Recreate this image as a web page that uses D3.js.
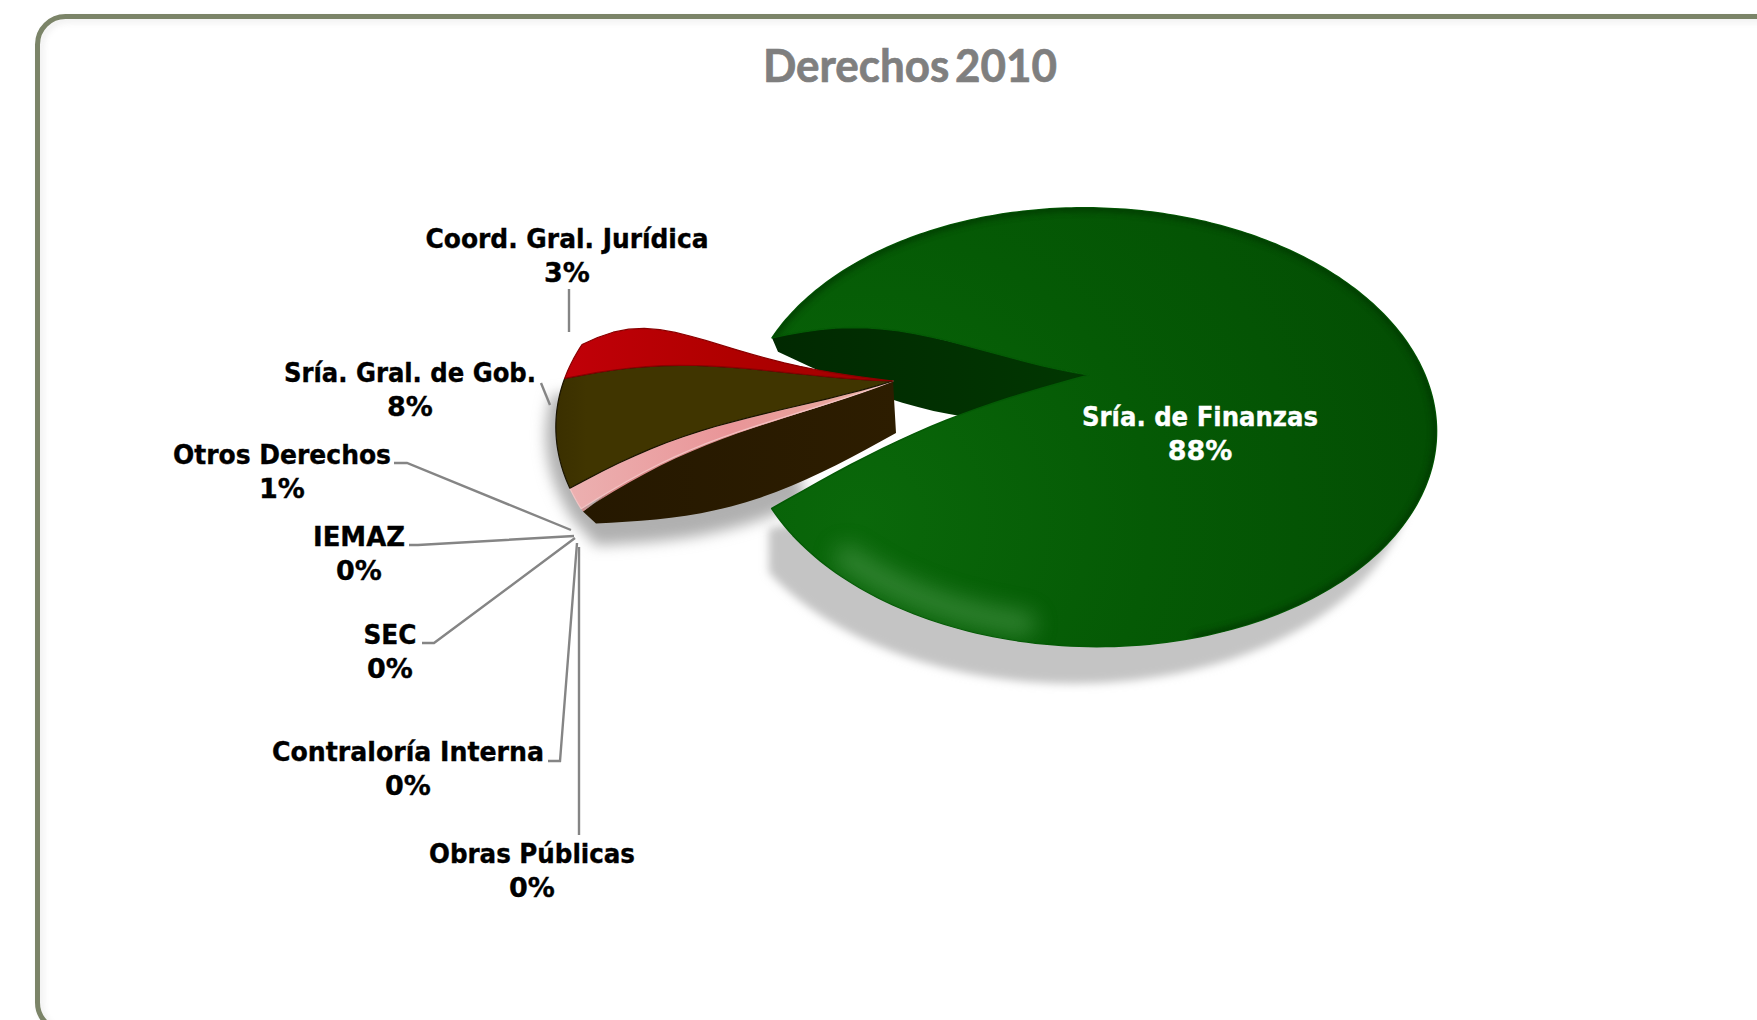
<!DOCTYPE html>
<html><head><meta charset="utf-8">
<script src="https://cdn.jsdelivr.net/npm/d3@7/dist/d3.min.js"></script>
<style>html,body{margin:0;padding:0;background:#fff;overflow:hidden}svg{display:block}
.lab{font-family:"DejaVu Sans",sans-serif;font-weight:700;font-size:27px;text-anchor:middle;stroke-width:.35}
.name{font-stretch:condensed}
</style></head><body><svg id="c" width="1757" height="1020"></svg>
<script>
const titleText = "Derechos 2010";
const categories = ["Obras Públicas","Contraloría Interna","SEC","IEMAZ","Otros Derechos","Sría. Gral. de Gob.","Coord. Gral. Jurídica","Sría. de Finanzas"];
const values = [0.05,0.05,0.05,0.05,1.45,8.0,2.8,87.55];
const colors = ["#d98a8a","#d98a8a","#d98a8a","#d98a8a","url(#pinkG)","url(#oliveG)","url(#redG)","url(#greenG)"];
const edgeColors = ["none","none","none","none","#f2c4c4","#1a1400","#8a0000","none"];
const labelX = [532,408,390,359,282,410,567,1200];
const labelY = [854,752,635,537,455,373,239,417];
const labelW = [206,272,53,92,218,252,283,236];
const leaders = [
 [[579,835],[579,547]],
 [[548,761],[560,761],[577,543]],
 [[422,643],[434,643],[575,538]],
 [[409,545],[418,545],[574,536]],
 [[394,463],[407,463],[571,530]],
 [[541,383],[550,405]],
 [[569,289],[569,332]],
 []
];
const mainCenter=[1089,375], wedgeCenter=[893,381];
const Rx=336, Ry=207, K=0.238, SKEW=0.03;
const START=(270-34)*Math.PI/180;

const svg=d3.select("#c"), defs=svg.append("defs");
const pie=d3.pie().sort(null).value(d=>d).startAngle(START).endAngle(START+2*Math.PI);
const arcs=pie(values);
const ux=d3.scaleLinear().domain([-1,1]).range([-Rx,Rx]);
const uy=d3.scaleLinear().domain([-1,1]).range([-Ry,Ry]);
function proj(c,a,s=1){const u=s*Math.sin(a),v=-s*Math.cos(a),w=1-K*v;
  const dy=uy(v)/w;return [c[0]+ux(u)/w+dy*SKEW,c[1]+dy];}
function radial(c,a,bow,scale=1,e=1.5){const O=proj(c,a,scale);
  return d3.range(0,1.001,0.05).map(r=>[c[0]+r*(O[0]-c[0]),c[1]+r*(O[1]-c[1])-bow*Math.sin(Math.PI*Math.pow(r,e))]);}
function rim(c,a0,a1,s=1){const n=Math.max(2,Math.ceil(Math.abs(a1-a0)/0.02));
  return d3.range(n+1).map(i=>proj(c,a0+(a1-a0)*i/n,s));}
const line=d3.line();

// defs
function grad(id,stops,attrs,kind="linearGradient"){const g=defs.append(kind).attr("id",id).attr("gradientUnits","userSpaceOnUse");
  Object.entries(attrs).forEach(([k,v])=>g.attr(k,v));stops.forEach(s=>g.append("stop").attr("offset",s[0]).attr("stop-color",s[1]));}
grad("greenG",[[0,"#0a680a"],[0.5,"#055a05"],[1,"#034e03"]],{cx:860,cy:520,r:580},"radialGradient");
grad("redG",[[0,"#c00008"],[0.5,"#b00000"],[1,"#a00000"]],{x1:570,y1:0,x2:890,y2:0});
grad("oliveG",[[0,"#3a2f00"],[0.1,"#403500"],[1,"#403500"]],{x1:553,y1:0,x2:893,y2:0});
grad("pinkG",[[0,"#ecb0b0"],[0.5,"#e99598"],[1,"#e8b0a0"]],{x1:570,y1:0,x2:893,y2:0});
grad("wallG",[[0,"#251800"],[1,"#2d1d00"]],{x1:577,y1:0,x2:897,y2:0});
grad("mainWallG",[[0,"#012901"],[1,"#013701"]],{x1:773,y1:0,x2:1089,y2:0});
[["b3",3],["b5",4],["b7",7],["b10",11]].forEach(([id,s])=>defs.append("filter").attr("id",id)
  .attr("filterUnits","userSpaceOnUse").attr("x",0).attr("y",0).attr("width",1757).attr("height",1020)
  .append("feGaussianBlur").attr("stdDeviation",s));

// frame
const frame=[37.5,16.5,1800,1014];
svg.append("rect").attr("x",frame[0]+3).attr("y",frame[1]+3).attr("width",frame[2]).attr("height",frame[3]).attr("rx",28)
  .attr("fill","none").attr("stroke","#ccc").attr("stroke-width",4).attr("filter","url(#b3)").attr("opacity",.45);
svg.append("rect").attr("x",frame[0]).attr("y",frame[1]).attr("width",frame[2]).attr("height",frame[3]).attr("rx",28)
  .attr("fill","none").attr("stroke","#7b8468").attr("stroke-width",5);

svg.append("text").text(titleText).attr("x",910).attr("y",82).attr("text-anchor","middle")
  .attr("font-family","Lato, sans-serif").attr("font-weight",700).attr("font-size",45).attr("fill","#7f7f7f")
  .attr("stroke","#7f7f7f").attr("stroke-width",.7).attr("word-spacing",-5)
  .attr("textLength",294).attr("lengthAdjust","spacingAndGlyphs");

const main=arcs[arcs.length-1], small=arcs.slice(0,-1);
const smallStart=small[0].startAngle, smallEnd=small[small.length-1].endAngle;
const WS=0.98;
const tLow=main.endAngle;

// wall outlines
const wallBottom=radial(wedgeCenter,smallStart,-24,WS,1).map((p,i,arr)=>{
  const r=i/(arr.length-1);return [p[0]+3+10*r,p[1]+52+(12-52)*r];}).reverse();
const mainWallBottom=radial(mainCenter,main.startAngle,-24,1,1).map((p,i,arr)=>{
  const r=i/(arr.length-1);return [p[0]+6*r,p[1]+47+(14-47)*r];}).reverse();

// shadows
const corner=proj(mainCenter,tLow);
svg.append("path").attr("d",line([[corner[0]-3,corner[1]+20],
    ...rim(mainCenter,tLow-0.12,tLow-Math.PI*0.82).map(p=>[p[0]-24,p[1]+37])])+"Z")
  .attr("fill","#c4c4c4").attr("filter","url(#b5)");
svg.append("path").attr("d",line([
    ...rim(wedgeCenter,smallEnd-0.22,smallStart,WS).map(p=>[p[0]-10,p[1]+8]),
    ...wallBottom.slice(0,15).map(p=>[p[0],p[1]+22]),
    [wedgeCenter[0]-120,wedgeCenter[1]]
  ])+"Z").attr("fill","#b0b0b0").attr("filter","url(#b7)");

// main inner wall
svg.append("path").attr("d",line([...radial(mainCenter,main.startAngle,22),...mainWallBottom])+"Z").attr("fill","url(#mainWallG)");

// small wedge wall
svg.append("path").attr("d",line([...radial(wedgeCenter,smallStart,20,WS),...wallBottom])+"Z").attr("fill","url(#wallG)");

// small slices
function smallPath(d){
  const lower=d.index<=4?(d.index===4?14:20):14;
  const upper=d.index===6?radial(wedgeCenter,d.endAngle,24,WS,2.5):radial(wedgeCenter,d.endAngle,14,WS);
  return line([...radial(wedgeCenter,d.startAngle,lower,WS),...rim(wedgeCenter,d.startAngle,d.endAngle,WS),...upper.reverse()])+"Z";
}
svg.append("g").selectAll("path").data(small).join("path")
  .attr("d",smallPath)
  .attr("fill",d=>colors[d.index]).attr("stroke",d=>edgeColors[d.index]).attr("stroke-width",1.2).attr("stroke-linejoin","round");

// main top surface
const mainPath=line([...radial(mainCenter,main.startAngle,22),...rim(mainCenter,main.startAngle,main.endAngle),...radial(mainCenter,main.endAngle,15,1,1).reverse()])+"Z";
defs.append("clipPath").attr("id","mainClip").append("path").attr("d",mainPath);
svg.append("path").attr("d",mainPath).attr("fill",colors[7]).attr("stroke","#045a05").attr("stroke-width",1.5).attr("stroke-linejoin","round");
const shade=svg.append("g").attr("clip-path","url(#mainClip)");
shade.append("path").attr("d",line(rim(mainCenter,main.startAngle,tLow-1.2))).attr("fill","none")
  .attr("stroke","#013501").attr("stroke-width",7).attr("filter","url(#b3)").attr("opacity",.75);
shade.append("path").attr("d",line(rim(mainCenter,tLow-0.28,tLow-0.8,0.95))).attr("fill","none")
  .attr("stroke","#4d9a4d").attr("stroke-width",24).attr("stroke-linecap","round").attr("filter","url(#b10)").attr("opacity",.6);

// leaders
svg.append("g").selectAll("path").data(leaders.filter(l=>l.length)).join("path")
  .attr("d",d=>line(d)).attr("fill","none").attr("stroke","#858585").attr("stroke-width",2.4);

// labels
const pct=d3.format(".0f");
const lab=svg.append("g").selectAll("text").data(arcs).join("text").attr("class","lab")
  .attr("fill",d=>d.index===7?"#fff":"#000").attr("stroke",d=>d.index===7?"#fff":"#000")
  .attr("x",d=>labelX[d.index]).attr("y",d=>labelY[d.index]+9);
lab.append("tspan").attr("class","name").text(d=>categories[d.index]).attr("x",d=>labelX[d.index])
  .attr("textLength",d=>labelW[d.index]).attr("lengthAdjust","spacingAndGlyphs");
lab.append("tspan").text(d=>pct(d.value)+"%").attr("x",d=>labelX[d.index]).attr("dy",34);
</script></body></html>
